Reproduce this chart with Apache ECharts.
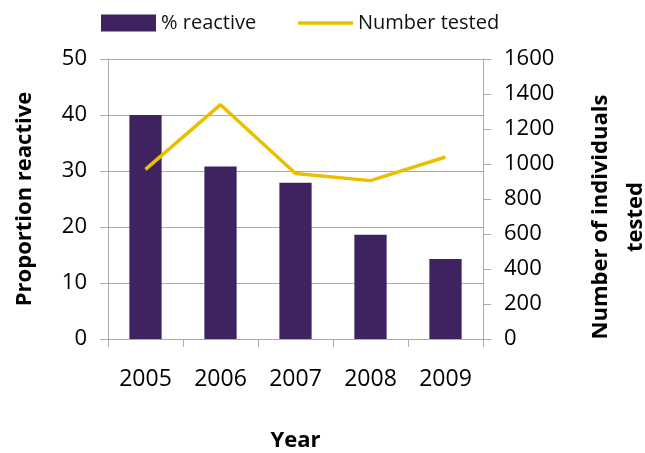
<!DOCTYPE html>
<html>
<head>
<meta charset="utf-8">
<script src="https://cdn.jsdelivr.net/npm/echarts@6/dist/echarts.min.js"></script>
<style>
  html, body { margin: 0; padding: 0; background: #fff; }
  #chart { width: 645px; height: 453px; }
</style>
</head>
<body>
<div id="chart"></div>
<script>
// Reactivity screening results by year
const years = ['2005', '2006', '2007', '2008', '2009'];
const percentReactive = [40, 30.8, 27.9, 18.6, 14.3];
const numberTested = [969, 1339, 946, 905, 1040];

const leftTicks = { min: 0, max: 50, interval: 10 };
const rightTicks = { min: 0, max: 1600, interval: 200 };

const FONT = '"Open Sans", "Liberation Sans", sans-serif';
const AXIS_GREY = '#ababab';
const BAR_COLOR = '#3e2360';
const LINE_COLOR = '#e9bf00';

const chart = echarts.init(document.getElementById('chart'), null, { renderer: 'canvas' });

chart.setOption({
  animation: false,
  textStyle: { fontFamily: FONT },
  legend: {
    top: 8,
    left: 96,
    itemWidth: 55,
    itemHeight: 17,
    itemGap: 40,
    textStyle: { fontFamily: FONT, fontSize: 20, color: '#111' },
    data: [
      { name: '% reactive', icon: 'rect' },
      // plain line key, no marker dot
      { name: 'Number tested', itemStyle: { opacity: 0 }, lineStyle: { width: 3.5, color: LINE_COLOR } }
    ]
  },
  grid: { left: 108, right: 162, top: 59, bottom: 114, outerBoundsMode: 'none', containLabel: false },
  xAxis: {
    type: 'category',
    data: years,
    name: 'Year',
    nameLocation: 'middle',
    nameGap: 91,
    nameTextStyle: { fontFamily: FONT, fontSize: 22, fontWeight: 'bold', color: '#000' },
    axisLine: { lineStyle: { color: AXIS_GREY, width: 1 } },
    axisTick: { show: true, length: 8, lineStyle: { color: AXIS_GREY } },
    axisLabel: { fontFamily: FONT, fontSize: 23, color: '#000', margin: 29 }
  },
  yAxis: [
    {
      type: 'value',
      min: leftTicks.min,
      max: leftTicks.max,
      interval: leftTicks.interval,
      name: 'Proportion reactive',
      nameLocation: 'middle',
      nameRotate: 90,
      nameGap: 72,
      nameTextStyle: { fontFamily: FONT, fontSize: 22, fontWeight: 'bold', color: '#000' },
      axisLine: { show: true, lineStyle: { color: AXIS_GREY } },
      axisTick: { show: true, length: 8, lineStyle: { color: AXIS_GREY } },
      axisLabel: { fontFamily: FONT, fontSize: 22, color: '#000', margin: 21 },
      splitLine: { show: true, lineStyle: { color: AXIS_GREY, width: 1 } }
    },
    {
      type: 'value',
      min: rightTicks.min,
      max: rightTicks.max,
      interval: rightTicks.interval,
      position: 'right',
      name: 'Number of individuals\ntested',
      nameLocation: 'middle',
      nameRotate: 90,
      nameGap: 100,
      nameTextStyle: {
        fontFamily: FONT, fontSize: 22, fontWeight: 'bold', color: '#000',
        lineHeight: 35, align: 'center', padding: [0, 36, 0, 0]
      },
      axisLine: { show: true, lineStyle: { color: AXIS_GREY } },
      axisTick: { show: true, length: 8, lineStyle: { color: AXIS_GREY } },
      axisLabel: { fontFamily: FONT, fontSize: 22, color: '#000', margin: 21, formatter: v => String(v) },
      splitLine: { show: false }
    }
  ],
  series: [
    {
      name: '% reactive',
      type: 'bar',
      yAxisIndex: 0,
      data: percentReactive,
      barWidth: '43%',
      itemStyle: { color: BAR_COLOR }
    },
    {
      name: 'Number tested',
      type: 'line',
      yAxisIndex: 1,
      data: numberTested,
      symbol: 'none',
      lineStyle: { color: LINE_COLOR, width: 3.5 },
      itemStyle: { color: LINE_COLOR }
    }
  ]
});
</script>
</body>
</html>
